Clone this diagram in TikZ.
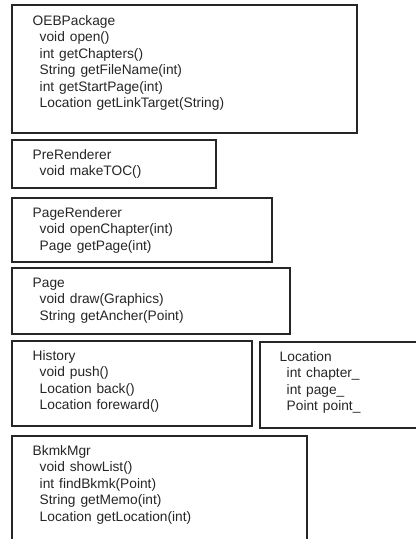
\documentclass[tikz,border=0pt]{standalone}
\usepackage{fontspec}
\setmainfont[WordSpace=1.3]{Liberation Sans}
\usetikzlibrary{calc,fit}

\begin{document}
\begin{tikzpicture}[x=0.75pt,y=-0.75pt,
  classbox/.style={draw=black!85, line width=0.8pt, inner sep=0pt, fill=none},
  textline/.style={anchor=base west, inner sep=0pt, font=\fontsize{10.3pt}{12pt}\selectfont, text=black!85}]

% page area (pixel grid, y downwards)
\path[use as bounding box, fill=white] (0,0) rectangle (416,539);
\clip (0,0) rectangle (416,539);

% class boxes
\node[classbox, fit={(12,5) (357,133)}]   (oeb)  {};
\node[classbox, fit={(12,140) (216,188)}] (pre)  {};
\node[classbox, fit={(12,198) (272,262)}] (pren) {};
\node[classbox, fit={(12,268) (290,334)}] (page) {};
\node[classbox, fit={(12,341) (252,426)}] (hist) {};
\node[classbox, fit={(260,342) (430,428)}] (loc) {};
\node[classbox, fit={(12,436) (307,570)}] (bkmk) {};

% class names and members
\node[textline] (oeb-n) at ($(oeb.north west)+(21,21)$) {OEBPackage};
\foreach \txt [count=\i] in {void open(), int getChapters(), String getFileName(int),
    int getStartPage(int), Location getLinkTarget(String)}
  \node[textline] (oeb-m\i) at ($(oeb-n.base west)+(7,\i*16.5)$) {\txt};

\node[textline] (pre-n) at ($(pre.north west)+(21,20)$) {PreRenderer};
\node[textline] (pre-m1) at ($(pre-n.base west)+(7,16.5)$) {void makeTOC()};

\node[textline] (pren-n) at ($(pren.north west)+(21,20)$) {PageRenderer};
\foreach \txt [count=\i] in {void openChapter(int), Page getPage(int)}
  \node[textline] (pren-m\i) at ($(pren-n.base west)+(7,\i*16.5)$) {\txt};

\node[textline] (page-n) at ($(page.north west)+(21,20)$) {Page};
\foreach \txt [count=\i] in {void draw(Graphics), String getAncher(Point)}
  \node[textline] (page-m\i) at ($(page-n.base west)+(7,\i*16.5)$) {\txt};

\node[textline] (hist-n) at ($(hist.north west)+(21,20)$) {History};
\foreach \txt [count=\i] in {void push(), Location back(), Location foreward()}
  \node[textline] (hist-m\i) at ($(hist-n.base west)+(7,\i*16.5)$) {\txt};

\node[textline] (loc-n) at ($(loc.north west)+(20,20)$) {Location};
\foreach \txt [count=\i] in {int chapter\_, int page\_, Point point\_}
  \node[textline] (loc-m\i) at ($(loc-n.base west)+(7,\i*16.5)$) {\txt};

\node[textline] (bkmk-n) at ($(bkmk.north west)+(21,20)$) {BkmkMgr};
\foreach \txt [count=\i] in {void showList(), int findBkmk(Point), String getMemo(int),
    Location getLocation(int)}
  \node[textline] (bkmk-m\i) at ($(bkmk-n.base west)+(7,\i*16.5)$) {\txt};

\end{tikzpicture}
\end{document}
